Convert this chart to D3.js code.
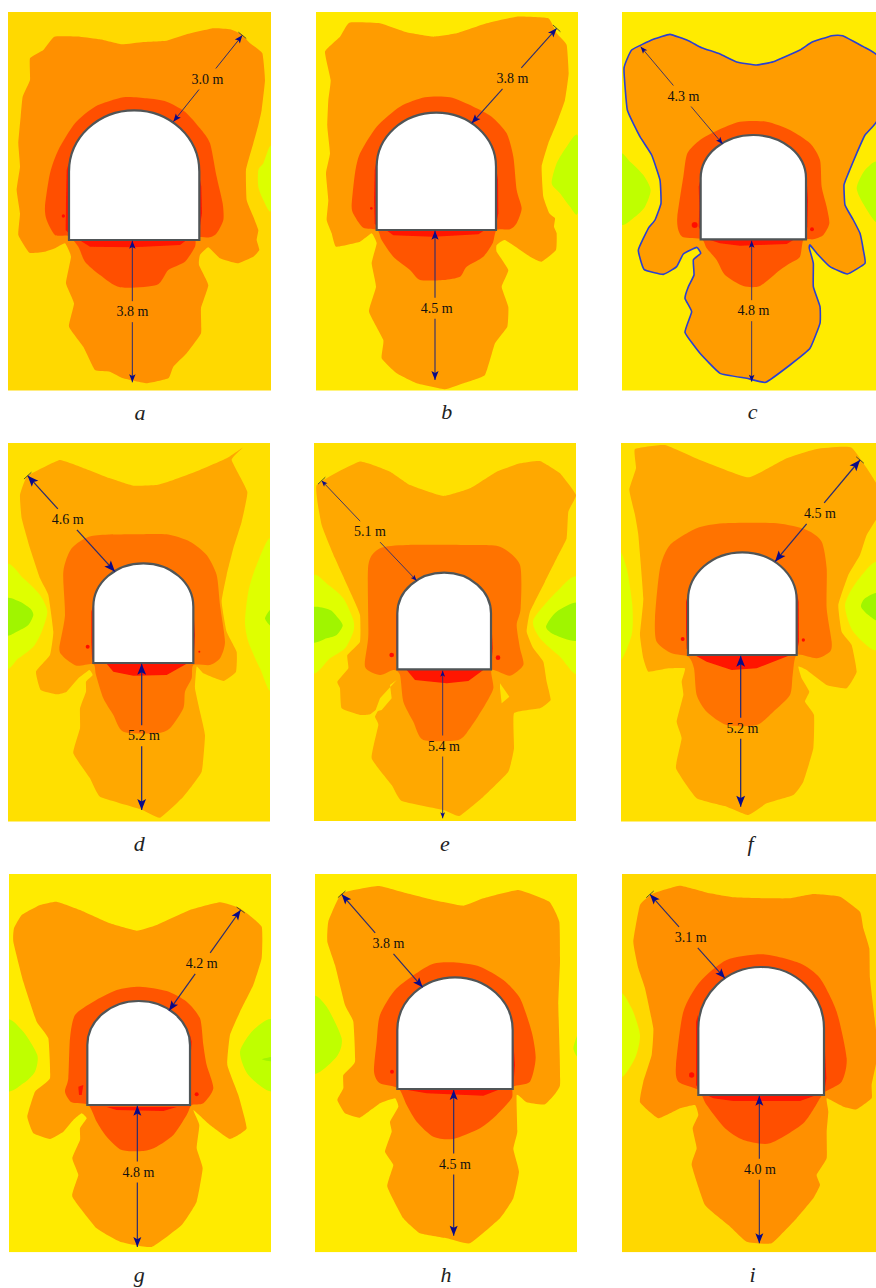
<!DOCTYPE html>
<html>
<head>
<meta charset="utf-8">
<script src="https://cdn.jsdelivr.net/npm/d3@7"></script>
<style>
  html, body { margin: 0; background: #fff; }
  svg { display: block; }
  .dist { font-family: "Liberation Serif", serif; font-size: 14px; fill: #111; text-anchor: middle; }
  .cap { font-family: "Liberation Serif", serif; font-style: italic; font-size: 22px; fill: #222; text-anchor: middle; }
</style>
</head>
<body>
<div id="chart"></div>
<script>
const panelNames = ['a', 'b', 'c', 'd', 'e', 'f', 'g', 'h', 'i'];
const panelOrigins = [[0, 0], [300, 0], [600, 0], [0, 435], [300, 435], [600, 435], [0, 865], [300, 865], [600, 865]];
// x0, x1, y0, y1
const panelFrames = [
  [24, 813, 36, 1172], [48, 834, 36, 1172], [66, 828, 36, 1172],
  [24, 810, 24, 1160], [42, 828, 24, 1158], [63, 828, 24, 1160],
  [27, 813, 27, 1162], [45, 831, 27, 1162], [66, 828, 27, 1162]
];
// left wall, right wall, spring line, crown, floor
const tunnels = [
  [207, 598, 515, 331, 720], [230, 588, 500, 338, 690], [302, 618, 535, 405, 718],
  [280, 580, 515, 385, 684], [292, 573, 535, 413, 703], [264, 590, 495, 352, 660],
  [262, 570, 540, 408, 720], [292, 638, 495, 337, 672], [295, 672, 490, 306, 690]
];

const outerZones = [
  [[163,110],[240,110],[300,118],[365,133],[430,126],[500,122],[560,103],[640,85],[690,88],[725,103],[750,130],[787,160],[795,240],[785,330],[775,375],[760,430],[738,510],[740,600],[760,650],[775,690],[770,720],[778,750],[760,770],[712,790],[660,775],[625,742],[600,765],[597,795],[625,855],[603,925],[603,1000],[560,1060],[520,1100],[505,1135],[440,1150],[370,1135],[330,1115],[285,1110],[250,1040],[207,980],[222,910],[198,850],[213,770],[195,730],[165,745],[135,755],[88,758],[55,705],[60,640],[50,570],[60,500],[55,430],[62,350],[68,290],[90,240],[90,175],[130,150]],
  [[148,68],[240,70],[320,97],[400,110],[470,100],[560,70],[650,50],[745,55],[770,100],[800,135],[806,220],[795,300],[770,370],[745,430],[725,500],[730,590],[748,640],[765,655],[762,680],[770,700],[768,750],[725,785],[690,770],[615,720],[590,735],[590,755],[625,810],[605,860],[625,920],[622,980],[585,1030],[555,1125],[490,1150],[435,1168],[350,1150],[290,1120],[245,1075],[250,1020],[207,935],[228,860],[215,790],[230,730],[215,700],[180,725],[108,740],[95,700],[80,660],[85,600],[78,520],[90,460],[82,380],[85,300],[92,240],[75,155],[120,110]],
  [[210,103],[265,122],[305,143],[360,162],[410,186],[470,195],[520,185],[600,150],[635,127],[695,107],[728,107],[790,140],[835,172],[835,355],[795,405],[770,460],[745,520],[732,555],[735,615],[760,660],[780,700],[790,750],[795,790],[742,822],[690,800],[655,765],[630,735],[628,745],[640,790],[640,860],[660,920],[660,970],[630,1045],[570,1095],[497,1147],[440,1135],[360,1120],[300,1060],[255,997],[275,935],[255,895],[265,860],[282,825],[280,780],[302,760],[290,742],[250,762],[230,800],[190,823],[132,808],[115,750],[145,685],[165,660],[183,610],[180,540],[155,465],[120,410],[82,330],[72,205],[95,150],[160,118]],
  [[180,75],[240,95],[330,130],[400,152],[470,150],[520,135],[600,105],[680,70],[728,38],[695,75],[742,170],[725,260],[700,340],[680,420],[665,500],[680,590],[710,650],[708,710],[670,738],[610,715],[590,695],[585,760],[600,830],[615,900],[605,1010],[550,1085],[480,1148],[420,1122],[300,1085],[270,1030],[220,955],[240,880],[240,820],[258,770],[258,740],[278,720],[268,705],[235,730],[200,770],[170,778],[122,765],[108,710],[150,660],[160,590],[145,480],[120,430],[90,340],[65,250],[60,180],[80,125],[125,100]],
  [[178,80],[270,110],[330,150],[430,183],[510,160],[590,110],[660,85],[720,78],[780,115],[828,180],[805,230],[800,310],[770,370],[735,440],[690,530],[680,590],[700,640],[730,680],[740,740],[752,795],[720,820],[642,835],[642,940],[625,1010],[550,1085],[478,1143],[430,1125],[305,1098],[275,1050],[215,970],[235,870],[225,845],[240,815],[210,838],[180,840],[125,820],[120,760],[112,740],[145,700],[142,660],[180,620],[180,540],[155,480],[105,370],[65,270],[50,150]],
  [[105,42],[195,30],[300,75],[445,127],[560,70],[650,42],[755,38],[835,155],[835,240],[800,300],[780,360],[745,420],[715,510],[725,590],[755,630],[770,710],[740,760],[680,750],[620,705],[595,695],[605,730],[628,770],[615,800],[642,840],[640,940],[610,1040],[580,1080],[500,1105],[445,1140],[380,1115],[290,1090],[228,1000],[245,910],[230,860],[250,780],[245,740],[255,700],[205,700],[145,710],[130,670],[120,600],[130,490],[115,300],[105,240],[88,165],[108,100]],
  [[170,110],[240,135],[330,175],[410,197],[470,180],[570,135],[660,112],[720,130],[785,185],[785,280],[760,360],[720,440],[690,510],[682,600],[715,690],[740,790],[690,822],[630,780],[580,735],[598,780],[590,850],[608,910],[590,1010],[545,1080],[455,1146],[360,1130],[290,1090],[217,995],[235,930],[217,880],[240,825],[240,790],[260,760],[245,745],[220,765],[190,800],[150,822],[100,805],[82,755],[105,680],[150,640],[145,520],[110,470],[70,350],[40,230],[42,190],[65,150],[120,120]],
  [[125,85],[235,63],[320,85],[400,105],[490,122],[550,100],[655,75],[748,110],[778,170],[780,290],[775,420],[780,660],[735,718],[680,712],[650,690],[652,800],[640,852],[657,920],[640,1000],[600,1060],[510,1135],[440,1120],[360,1105],[310,1060],[262,965],[280,900],[255,860],[275,800],[270,770],[295,725],[285,700],[240,715],[180,758],[135,745],[112,705],[130,670],[130,630],[165,590],[160,470],[135,420],[105,300],[82,230],[85,170]],
  [[240,62],[330,85],[400,97],[500,100],[570,100],[640,87],[720,95],[780,140],[790,190],[808,250],[810,340],[825,470],[835,560],[815,660],[815,700],[770,733],[730,725],[680,700],[685,740],[680,800],[680,880],[650,930],[660,960],[640,1000],[590,1060],[515,1135],[440,1130],[385,1080],[315,1020],[275,900],[290,850],[278,790],[295,750],[285,720],[240,730],[175,760],[120,712],[130,650],[155,570],[160,490],[135,370],[115,310],[100,230],[120,120],[160,85]]
];

const innerZones = [
  [[370,292],[440,295],[500,305],[555,335],[600,385],[630,430],[650,530],[668,610],[670,660],[650,700],[630,712],[590,712],[585,740],[555,785],[505,810],[470,855],[360,862],[300,825],[255,785],[235,740],[205,708],[165,705],[140,660],[135,620],[150,520],[175,450],[225,370],[285,320]],
  [[375,292],[450,292],[520,320],[575,350],[620,400],[640,470],[650,570],[665,625],[650,670],[630,688],[590,690],[578,730],[550,770],[500,800],[480,830],[430,840],[360,840],[330,810],[280,770],[245,720],[232,690],[190,683],[165,650],[155,620],[165,520],[180,460],[230,380],[300,320]],
  [[350,392],[420,365],[500,365],[570,390],[630,430],[660,480],[665,560],[680,620],[688,670],[670,705],[640,718],[610,720],[600,770],[570,790],[540,810],[480,858],[430,858],[375,825],[350,780],[320,745],[305,718],[250,712],[235,690],[232,650],[250,530],[262,460],[300,420]],
  [[275,303],[400,298],[500,298],[570,320],[620,360],[650,420],[660,510],[675,620],[660,670],[630,690],[580,690],[575,730],[555,770],[550,820],[510,880],[470,895],[370,890],[340,840],[310,790],[288,720],[280,688],[230,692],[190,665],[178,640],[195,540],[190,410],[215,340]],
  [[240,340],[320,330],[500,330],[600,335],[660,390],[662,520],[650,570],[660,640],[670,690],[630,722],[575,705],[580,760],[555,810],[510,880],[475,915],[370,915],[340,860],[310,800],[300,720],[280,705],[240,720],[195,695],[205,600],[205,390]],
  [[290,280],[370,265],[530,265],[620,285],[665,320],[680,400],[680,520],[695,620],[690,650],[650,670],[590,660],[578,720],[570,780],[520,830],[470,870],[380,870],[320,830],[290,780],[282,700],[265,665],[215,655],[170,620],[165,550],[180,400],[210,330]],
  [[350,375],[420,365],[500,378],[560,410],[600,460],[610,540],[620,600],[640,670],[610,715],[575,720],[560,750],[520,810],[470,845],[430,858],[365,855],[320,815],[290,770],[265,720],[215,712],[195,680],[205,640],[210,520],[225,450],[280,410]],
  [[390,300],[460,292],[540,305],[610,345],[660,400],[695,500],[707,580],[690,650],[640,665],[635,700],[590,750],[540,790],[460,822],[400,815],[350,770],[320,720],[295,670],[240,655],[222,620],[230,530],[240,450],[290,370]],
  [[380,285],[490,268],[600,295],[660,340],[710,440],[740,580],[725,650],[675,680],[660,700],[610,775],[510,835],[430,825],[375,790],[320,720],[295,675],[235,650],[228,600],[250,440],[300,350]]
];

// highest stress strip below the floor
const floorZones = [
  [[238,720],[560,720],[540,735],[400,742],[270,740]],
  [[258,690],[555,690],[535,703],[400,710],[280,706]],
  [[330,720],[580,720],[560,732],[420,737],[360,730]],
  [[320,686],[560,686],[500,720],[400,722],[340,710]],
  [[320,705],[550,705],[505,738],[440,745],[345,735]],
  [[285,661],[570,661],[520,680],[470,700],[395,705],[320,680]],
  [[320,726],[530,726],[490,738],[350,735]],
  [[310,673],[600,673],[550,692],[380,685]],
  [[320,690],[650,690],[600,708],[400,708],[340,700]]
];

// thin red patches against the walls
const wallStrips = [
  [[[206,490],[200,510],[198,600],[197,690],[206,700]], [[598,530],[604,560],[606,640],[598,690]]],
  [[[230,480],[224,510],[222,600],[224,670],[230,680]], [[588,500],[594,540],[595,640],[588,675]]],
  [[[301,540],[296,560],[298,620],[296,680],[301,690]], [[618,510],[624,600],[622,680],[618,695]]],
  [[[280,510],[274,530],[274,620],[276,670],[280,680]], [[580,520],[585,600],[581,670]]],
  [[[292,520],[288,545],[288,640],[292,690]], [[573,530],[578,640],[574,690]]],
  [[[264,480],[258,500],[258,590],[260,640],[264,650]], [[590,470],[596,500],[597,620],[591,650]]],
  [[[235,665],[250,660],[245,690],[237,690]], [[570,510],[575,530],[572,570]]],
  [[[292,470],[288,500],[288,640],[292,660]], [[638,500],[645,600],[640,660]]],
  [[[294,450],[288,470],[288,660],[294,670]], [[672,500],[679,640],[673,680]]]
];
// round red spots: x, y, r
const wallSpots = [
  [[190,648,5]], [[214,625,4]], [[284,675,9],[636,688,6]], [[263,635,6],[598,650,3]],
  [[275,660,7],[594,668,7]], [[248,612,6],[610,615,5]], [[590,688,6]], [[276,620,6]], [[275,630,8]]
];

// side zones, drawn first to last over the background
const sideZones = [
  [[[813,440],[790,490],[775,510],[775,560],[790,600],[813,630]]],
  [[[834,410],[800,440],[770,490],[755,550],[780,580],[810,620],[834,635]]],
  [[[60,467],[90,485],[130,525],[152,570],[135,620],[105,650],[60,668]], [[835,490],[795,510],[770,565],[795,620],[835,665]]],
  [[[18,395],[70,430],[120,480],[142,530],[125,590],[100,635],[55,670],[18,690]], [[816,320],[770,390],[745,470],[735,560],[745,620],[780,700],[816,755]]],
  [[[36,430],[85,450],[130,490],[160,555],[160,590],[135,640],[90,670],[36,708]], [[835,432],[770,470],[700,555],[720,610],[780,665],[835,710]]],
  [[[57,360],[80,400],[97,510],[95,600],[57,670]], [[835,385],[770,440],[735,510],[760,590],[835,640]]],
  [[[20,468],[70,500],[112,570],[105,620],[70,655],[20,672]], [[820,468],[760,495],[720,560],[745,630],[820,675]]],
  [[[38,400],[80,425],[125,520],[110,575],[38,622]], [[838,500],[820,550],[838,580]]],
  [[[60,390],[95,430],[120,510],[105,580],[60,632]]]
];
const coreZones = [
  [], [], [],
  [[[18,492],[60,500],[90,520],[100,540],[85,570],[50,590],[18,598]], [[816,520],[795,550],[816,575]]],
  [[[36,520],[90,525],[115,550],[128,572],[110,600],[80,610],[36,620]], [[835,505],[770,530],[738,575],[765,600],[835,615]]],
  [[[835,475],[795,490],[783,515],[805,540],[835,555]]],
  [[[820,575],[785,583],[820,590]]],
  [], []
];
// yellow pockets left inside panel e
const pockets = [[], [], [], [],
  [[[290,735],[240,790],[225,830],[245,825],[275,790],[270,750]], [[600,745],[628,785],[605,805],[600,760]]],
  [], [], [], []];

// x1, y1 (far end), x2, y2 (near end), label x, label y, value
const crownArrows = [
  [727,106,520,365,622,237,'3.0 m'], [770,85,515,370,637,235,'3.8 m'], [122,140,368,432,250,288,'4.3 m'],
  [83,122,345,410,203,253,'4.6 m'], [65,137,350,437,210,290,'5.1 m'], [780,75,525,380,660,235,'4.5 m'],
  [722,135,507,437,605,295,'4.2 m'], [125,88,368,367,265,235,'3.8 m'], [150,88,375,340,272,217,'3.1 m']
];
const floorArrows = [
  [397,1147,397,722,397,935,'3.8 m'], [405,1140,405,692,410,925,'4.5 m'], [455,1145,455,722,460,932,'4.8 m'],
  [425,1125,425,686,432,902,'5.2 m'], [428,1150,428,707,432,933,'5.4 m'], [422,1115,422,662,427,880,'5.2 m'],
  [412,1146,412,722,415,921,'4.8 m'], [461,1112,461,675,465,897,'4.5 m'], [478,1135,478,692,480,913,'4.0 m']
];
const captionSpots = [[420,1260],[440,1258],[458,1258],[418,1248],[435,1248],[452,1248],[418,1250],[438,1250],[458,1250]];
const hasTick = [true, true, false, true, true, true, true, true, true];
const headSizes = [8, 9, 7, 11, 6, 11, 10, 10, 10];
const lineWidths = [1, 1.1, 0.9, 1.3, 0.9, 1.3, 1.2, 1.2, 1.1];

// colours per panel
const bgColors = ['#ffd900', '#ffe900', '#ffeb00', '#ffe000', '#ffe000', '#ffe000', '#ffeb00', '#ffeb00', '#ffd800'];
const outerColors = ['#ff9000', '#ff9c00', '#ff9c00', '#ffa800', '#ffa800', '#ffa800', '#ff9c00', '#ff9c00', '#ff9000'];
const innerColors = ['#ff5000', '#ff5500', '#ff5500', '#ff7300', '#ff7300', '#ff7300', '#ff5500', '#ff5500', '#ff4f00'];
const sideColors = ['#dcff00', '#c4ff00', '#bfff00', '#dfff00', '#dfff00', '#dfff00', '#bfff00', '#bfff00', '#dfff00'];
const coreColor = '#a0f500';
const outlinePanel = 2; // only c has the blue contour

const svg = d3.select('#chart').append('svg').attr('width', 876).attr('height', 1288);

// the source is a soft raster, so take the edge off the zones a little
svg.append('filter').attr('id', 'soft')
  .append('feGaussianBlur').attr('stdDeviation', 0.45);

function head(g, x1, y1, x2, y2, size) {
  // arrowhead with its tip at x1,y1, coming from x2,y2
  const a = Math.atan2(y2 - y1, x2 - x1);
  const pt = (d, s) => [x1 + Math.cos(a) * d - Math.sin(a) * s, y1 + Math.sin(a) * d + Math.cos(a) * s];
  g.append('polygon')
    .attr('points', [pt(0, 0), pt(size, size * 0.4), pt(size * 0.78, 0), pt(size, -size * 0.4)].join(' '))
    .attr('fill', '#0a0a88');
}

function drawArrow(g, x, y, arrow, size, width, tick) {
  const [x1, y1, x2, y2, lx, ly, value] = arrow;
  const px1 = x(x1), py1 = y(y1), px2 = x(x2), py2 = y(y2), qy = y(ly);
  const t = v => (v - py1) / (py2 - py1);
  const gap = 10.5;
  const cut = (v) => [px1 + (px2 - px1) * t(v), v];
  const sign = py2 > py1 ? 1 : -1;
  const a = cut(qy - gap * sign), b = cut(qy + gap * sign);
  [[[px1, py1], a], [b, [px2, py2]]].forEach(seg => {
    g.append('line')
      .attr('x1', seg[0][0]).attr('y1', seg[0][1])
      .attr('x2', seg[1][0]).attr('y2', seg[1][1])
      .attr('stroke', '#2c2c70').attr('stroke-width', width);
  });
  head(g, px1, py1, px2, py2, size);
  head(g, px2, py2, px1, py1, size);
  if (tick) {
    const ang = Math.atan2(py2 - py1, px2 - px1) + Math.PI / 2;
    g.append('line')
      .attr('x1', px1 + Math.cos(ang) * 5).attr('y1', py1 + Math.sin(ang) * 5)
      .attr('x2', px1 - Math.cos(ang) * 5).attr('y2', py1 - Math.sin(ang) * 5)
      .attr('stroke', '#2c3a30').attr('stroke-width', 0.8);
  }
  g.append('text').attr('class', 'dist').attr('x', x(lx)).attr('y', qy + 4.5).text(value);
}

panelNames.forEach((name, i) => {
  const [ox, oy] = panelOrigins[i];
  const [x0, x1, y0, y1] = panelFrames[i];
  const x = d3.scaleLinear().domain([x0, x1]).range([ox + x0 / 3, ox + x1 / 3]);
  const y = d3.scaleLinear().domain([y0, y1]).range([oy + y0 / 3, oy + y1 / 3]);
  // outlines are mostly straight runs with soft corners, the inner ring is rounder
  const outline = d3.line().x(d => x(d[0])).y(d => y(d[1])).curve(d3.curveCardinalClosed.tension(0.65));
  const ring = d3.line().x(d => x(d[0])).y(d => y(d[1])).curve(d3.curveCardinalClosed.tension(0.3));
  const line = d3.line().x(d => x(d[0])).y(d => y(d[1])).curve(d3.curveLinearClosed);

  svg.append('clipPath').attr('id', 'clip-' + name).append('rect')
    .attr('x', x(x0)).attr('y', y(y0)).attr('width', x(x1) - x(x0)).attr('height', y(y1) - y(y0));

  const g = svg.append('g');
  const frame = g.append('g').attr('clip-path', `url(#clip-${name})`);

  frame.append('rect')
    .attr('x', x(x0)).attr('y', y(y0)).attr('width', x(x1) - x(x0)).attr('height', y(y1) - y(y0))
    .attr('fill', bgColors[i]);

  const zones = frame.append('g').attr('filter', 'url(#soft)');

  zones.selectAll('path.side').data(sideZones[i]).enter().append('path')
    .attr('class', 'side').attr('d', ring).attr('fill', sideColors[i]);
  zones.selectAll('path.core').data(coreZones[i]).enter().append('path')
    .attr('class', 'core').attr('d', ring).attr('fill', coreColor);

  zones.append('path').datum(outerZones[i]).attr('d', outline)
    .attr('fill', outerColors[i])
    .attr('stroke', i === outlinePanel ? '#2a3fd2' : 'none')
    .attr('stroke-width', 1.6);

  zones.selectAll('path.pocket').data(pockets[i]).enter().append('path')
    .attr('class', 'pocket').attr('d', line).attr('fill', bgColors[i]);

  zones.append('path').datum(innerZones[i]).attr('d', ring).attr('fill', innerColors[i]);
  zones.append('path').datum(floorZones[i]).attr('d', line).attr('fill', '#ff1500');
  zones.selectAll('path.strip').data(wallStrips[i]).enter().append('path')
    .attr('class', 'strip').attr('d', line).attr('fill', '#ff1500');
  zones.selectAll('circle').data(wallSpots[i]).enter().append('circle')
    .attr('cx', d => x(d[0])).attr('cy', d => y(d[1])).attr('r', d => d[2] / 3)
    .attr('fill', '#ff1000');

  // tunnel opening
  const [tl, tr, ts, tc, tf] = tunnels[i];
  const rx = (x(tr) - x(tl)) / 2, ry = y(ts) - y(tc);
  g.append('path')
    .attr('d', `M${x(tl)},${y(tf)}L${x(tl)},${y(ts)}A${rx},${ry} 0 0 1 ${x(tr)},${y(ts)}L${x(tr)},${y(tf)}Z`)
    .attr('fill', '#fff').attr('stroke', '#505557').attr('stroke-width', 2.2);

  drawArrow(g, x, y, crownArrows[i], headSizes[i], lineWidths[i], hasTick[i]);
  drawArrow(g, x, y, floorArrows[i], headSizes[i], lineWidths[i], false);

  g.append('text').attr('class', 'cap')
    .attr('x', x(captionSpots[i][0])).attr('y', y(captionSpots[i][1]))
    .text(name);
});
</script>
</body>
</html>
